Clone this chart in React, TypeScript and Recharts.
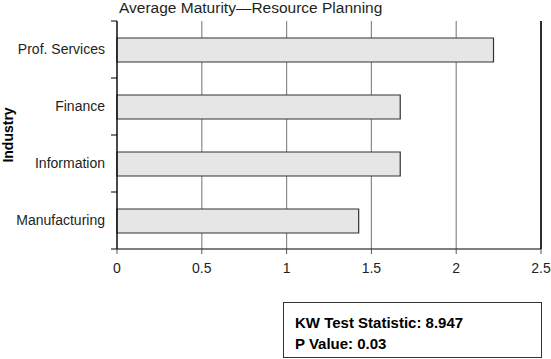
import React from 'react';
import { BarChart, Bar, XAxis, YAxis, CartesianGrid, ReferenceLine, Label } from 'recharts';

const industries = ['Prof. Services', 'Finance', 'Information', 'Manufacturing'];
const maturity = [2.22, 1.67, 1.67, 1.425];
const xTicks = [0, 0.5, 1, 1.5, 2, 2.5];
const title = 'Average Maturity\u2014Resource Planning';
const statLines = ['KW Test Statistic: 8.947', 'P Value: 0.03'];

const data = industries.map((industry, i) => ({ industry, value: maturity[i] }));

const FONT = '"Liberation Sans", Arial, sans-serif';
const INK = '#231f20';
const LABEL_GAP = 12;
const TICK_LEN = 6;

// Category tick: label at the band centre plus tick marks at the band boundaries.
const CategoryTick = (props: any) => {
  const { x, y, payload, index, visibleTicksCount } = props;
  const half = payload && payload.offset ? payload.offset : 0;
  const axisX = x + LABEL_GAP;
  const isLast = index === visibleTicksCount - 1;
  return (
    <g>
      <line x1={axisX - TICK_LEN} x2={axisX} y1={y - half} y2={y - half} stroke="#000" />
      {isLast ? <line x1={axisX - TICK_LEN} x2={axisX} y1={y + half} y2={y + half} stroke="#000" /> : null}
      <text x={x} y={y} dy="0.355em" textAnchor="end" fontSize={14} fill={INK} fontFamily={FONT}>
        {payload.value}
      </text>
    </g>
  );
};

export default function App() {
  return (
    <div style={{ position: 'absolute', left: 0, top: 0, width: 551, height: 359, background: '#fff', fontFamily: FONT }}>
      <div style={{ position: 'absolute', left: 119, top: -1, fontSize: 15.5, color: INK, whiteSpace: 'nowrap' }}>{title}</div>
      <BarChart
        width={551}
        height={359}
        data={data}
        layout="vertical"
        margin={{ top: 21, right: 10, bottom: 80, left: 0 }}
        barCategoryGap={16}
      >
        <CartesianGrid horizontal={false} vertical={true} stroke="#8a8a8a" strokeWidth={1.2} />
        <XAxis
          type="number"
          domain={[0, 2.5]}
          ticks={xTicks}
          height={30}
          tickSize={5}
          tickMargin={9}
          axisLine={{ stroke: '#000', strokeWidth: 1.2 }}
          tickLine={{ stroke: '#555' }}
          tick={{ fontSize: 14, fill: INK, fontFamily: FONT }}
        />
        <XAxis
          xAxisId="top"
          orientation="top"
          type="number"
          domain={[0, 2.5]}
          ticks={xTicks}
          height={0}
          tick={false}
          tickLine={false}
          axisLine={{ stroke: '#8a8a8a', strokeWidth: 1.2 }}
        />
        <YAxis
          type="category"
          dataKey="industry"
          width={117}
          tickSize={0}
          tickMargin={LABEL_GAP}
          tickLine={false}
          axisLine={{ stroke: '#000', strokeWidth: 1.2 }}
          tick={CategoryTick}
        >
          <Label
            value="Industry"
            angle={-90}
            position="insideLeft"
            offset={8}
            textAnchor="middle"
            style={{ fontSize: 14, fontWeight: 'bold', fill: '#000', fontFamily: FONT }}
          />
        </YAxis>
        <ReferenceLine x={2.5} stroke="#000" strokeWidth={1.5} />
        <Bar dataKey="value" fill="#e6e6e6" stroke="#333" strokeWidth={1.2} barSize={24} isAnimationActive={false} />
      </BarChart>
      <div
        style={{
          position: 'absolute',
          left: 283,
          top: 302,
          width: 259,
          height: 56,
          boxSizing: 'border-box',
          border: '1px solid #333',
          paddingLeft: 11,
          paddingTop: 9,
          fontSize: 15,
          fontWeight: 'bold',
          color: '#000',
          lineHeight: '21px',
          whiteSpace: 'nowrap',
        }}
      >
        {statLines.map((s) => (
          <div key={s}>{s}</div>
        ))}
      </div>
    </div>
  );
}
